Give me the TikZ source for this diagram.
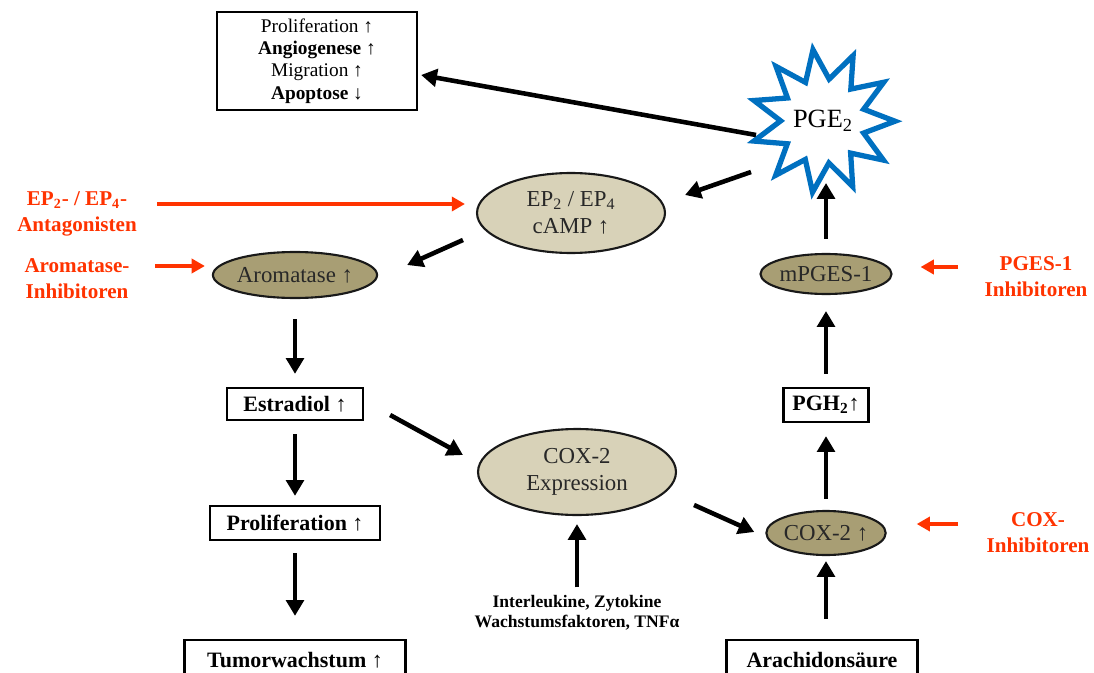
\documentclass[tikz,border=0pt]{standalone}
\usepackage{fontspec}
\setmainfont{Liberation Serif}
\usetikzlibrary{arrows.meta,shapes.geometric}
\definecolor{tanlight}{RGB}{216,210,184}
\definecolor{tandark}{RGB}{168,158,116}
\definecolor{myred}{RGB}{255,51,0}
\definecolor{myblue}{RGB}{0,112,192}
\definecolor{ink}{RGB}{40,40,40}
\begin{document}
\begin{tikzpicture}[x=0.02cm,y=-0.02cm,
 arr/.style={line width=2.6pt,-{Triangle[length=9pt,width=10pt]}},
 redarr/.style={myred,line width=1.9pt,-{Triangle[length=7.5pt,width=8pt]}},
 box/.style={draw,line width=1.3pt,inner sep=0pt,font=\bfseries\fontsize{12.5}{14}\selectfont},
 ell/.style={ellipse,draw=black!90,line width=1.2pt,inner sep=0pt,text=ink,font=\fontsize{13}{15.5}\selectfont,align=center},
 redtxt/.style={myred,font=\bfseries\fontsize{12}{14.7}\selectfont,align=center},
 smalltxt/.style={font=\bfseries\fontsize{10}{11.3}\selectfont,align=center}]
\useasboundingbox[fill=white] (0,0) rectangle (1094,672);

% nodes
\node[box,minimum width=4cm,minimum height=1.96cm,align=center,font=\fontsize{11}{12.8}\selectfont] (top) at (317,61)
  {Proliferation ↑\\\textbf{Angiogenese ↑}\\Migration ↑\\\textbf{Apoptose ↓}};
\node[star,star points=11,star point ratio=1.7,draw=myblue,line width=3pt,fill=white,shape border rotate=8,
  minimum size=2.85cm,inner sep=0pt,font=\fontsize{15}{17}\selectfont] (pge) at (823,121) {PGE\textsubscript{2}};

\node[ell,fill=tanlight,minimum width=3.76cm,minimum height=1.6cm] (ep) at (571,213)
  {EP\textsubscript{2} / EP\textsubscript{4}\\cAMP ↑};
\node[ell,fill=tandark,minimum width=3.12cm,minimum height=0.92cm] (arom) at (295,275) {Aromatase ↑};
\node[ell,fill=tanlight,minimum width=3.96cm,minimum height=1.72cm] (coxexp) at (577,472) {COX-2\\Expression};
\node[ell,fill=tandark,minimum width=2.36cm,minimum height=0.88cm] (cox2) at (826,533) {COX-2 ↑};
\node[ell,fill=tandark,minimum width=2.4cm,minimum height=0.8cm] (mpges) at (826,274) {mPGES-1};

\node[box,minimum width=2.72cm,minimum height=0.64cm] (est) at (295,404) {Estradiol ↑};
\node[box,minimum width=3.4cm,minimum height=0.68cm] (prol) at (295,523) {Proliferation ↑};
\node[box,minimum width=4.42cm,minimum height=0.8cm] (tum) at (295,660) {Tumorwachstum ↑};
\node[box,minimum width=1.7cm,minimum height=0.68cm] (pgh) at (826,405) {PGH\textsubscript{2}↑};
\node[box,minimum width=3.82cm,minimum height=0.8cm] (ara) at (822,660) {Arachidonsäure};

\node[redtxt] (antag) at (77,214) {EP\textsubscript{2}- / EP\textsubscript{4}-\\Antagonisten};
\node[redtxt] (aromi) at (77,279) {Aromatase-\\Inhibitoren};
\node[redtxt] (pgesi) at (1036,277) {PGES-1\\Inhibitoren};
\node[redtxt] (coxi) at (1038,533) {COX-\\Inhibitoren};
\node[smalltxt] (cyto) at (577,613) {Interleukine, Zytokine\\Wachstumsfaktoren, TNFα};

% connectors
\draw[arr] ([shift={(-67,14)}]pge.center) -- ([shift={(3,14)}]top.east);
\draw[arr] ([shift={(-72,51)}]pge.center) -- ([shift={(19,-18)}]ep.east);
\draw[arr] ([shift={(0,-14)}]mpges.north) -- ([shift={(3,62)}]pge.center);
\draw[redarr] ([shift={(80,-10)}]antag.center) -- ([shift={(-11,-9)}]ep.west);
\draw[arr] ([shift={(-13,27)}]ep.west) -- ([shift={(29,-10)}]arom.east);
\draw[redarr] ([shift={(78,-13)}]aromi.center) -- ([shift={(-7,-9)}]arom.west);
\draw[arr] ([shift={(0,20)}]arom.south) -- ([shift={(0,-13)}]est.north);
\draw[arr] ([shift={(0,13)}]est.south) -- ([shift={(0,-9)}]prol.north);
\draw[arr] ([shift={(0,12)}]prol.south) -- ([shift={(0,-23)}]tum.north);
\draw[arr] ([shift={(26,11)}]est.east) -- ([shift={(-14,-17)}]coxexp.west);
\draw[arr] ([shift={(0,-2)}]cyto.north) -- ([shift={(0,8)}]coxexp.south);
\draw[arr] ([shift={(17,33)}]coxexp.east) -- ([shift={(-11,-1)}]cox2.west);
\draw[arr] ([shift={(0,-11)}]cox2.north) -- ([shift={(0,13)}]pgh.south);
\draw[arr] ([shift={(0,-13)}]pgh.north) -- ([shift={(0,16)}]mpges.south);
\draw[arr] ([shift={(4,-20)}]ara.north) -- ([shift={(0,5)}]cox2.south);
\draw[redarr] ([shift={(-78,-10)}]pgesi.center) -- ([shift={(28,-7)}]mpges.east);
\draw[redarr] ([shift={(-80,-9)}]coxi.center) -- ([shift={(30,-9)}]cox2.east);
\end{tikzpicture}
\end{document}
